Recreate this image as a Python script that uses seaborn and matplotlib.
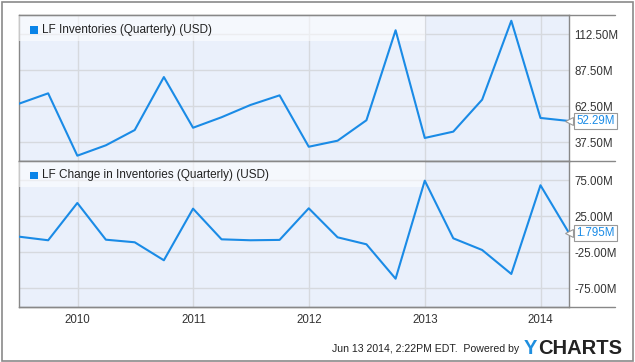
import pandas as pd
import seaborn as sns
import matplotlib.pyplot as plt
import matplotlib.dates as mdates
from matplotlib.lines import Line2D
from matplotlib.patches import Rectangle

# Datas trimestrais (fim de trimestre)
quarters = ['2009-06-30', '2009-09-30', '2009-12-31', '2010-03-31', '2010-06-30',
            '2010-09-30', '2010-12-31', '2011-03-31', '2011-06-30', '2011-09-30',
            '2011-12-31', '2012-03-31', '2012-06-30', '2012-09-30', '2012-12-31',
            '2013-03-31', '2013-06-30', '2013-09-30', '2013-12-31', '2014-03-31']

# Valores em milhões de USD
inventories = [64.3, 71.5, 28.2, 35.4, 46.0, 82.8, 47.6, 54.9, 63.4, 70.1,
               34.4, 38.6, 52.8, 115.3, 40.5, 44.9, 67.1, 121.9, 54.4, 52.29]
change_inv = [-3.3, -8.3, 43.5, -7.5, -11.1, -36.1, 35.6, -7.0, -8.3, -7.8,
              36.1, -4.2, -13.9, -61.7, 74.5, -5.6, -21.8, -55.1, 68.1, 1.795]

top_ticks = [37.5, 62.5, 87.5, 112.5]
bottom_ticks = [-75, -25, 25, 75]
year_ticks = ['2010', '2011', '2012', '2013', '2014']

titles = ['LF Inventories (Quarterly) (USD)', 'LF Change in Inventories (Quarterly) (USD)']
last_labels = ['52.29M', '1.795M']

df = pd.DataFrame({'date': pd.to_datetime(quarters),
                   'inv': inventories, 'chg': change_inv})

sns.set_theme(style='white')
plt.rcParams['font.family'] = ['Liberation Sans', 'DejaVu Sans']

W, H = 635, 362
fig = plt.figure(figsize=(W / 100, H / 100), dpi=100)

line_color = '#1a8be6'
bg = '#eaf0fb'
grid_c = '#d6d9de'
spine_c = '#888888'

def px_axes(left, top, right, bottom):
    return fig.add_axes([left / W, 1 - bottom / H, (right - left) / W, (bottom - top) / H])

ax1 = px_axes(19, 15, 569, 161)
ax2 = px_axes(19, 161, 569, 307)

panels = [(ax1, 'inv', top_ticks, (24.5, 125.9)),
          (ax2, 'chg', bottom_ticks, (-101.0, 101.8))]

for i, (ax, col, ticks, ylim) in enumerate(panels):
    ax.set_facecolor(bg)
    sns.lineplot(data=df, x='date', y=col, ax=ax, color=line_color, linewidth=1.5, zorder=4)
    ax.set_xlim(df['date'].iloc[0], df['date'].iloc[-1])
    ax.set_ylim(*ylim)
    ax.set_xlabel('')
    ax.set_ylabel('')
    ax.yaxis.tick_right()
    ax.set_yticks(ticks)
    ax.set_yticklabels([f'{t:.2f}M' for t in ticks])
    ax.set_xticks(pd.to_datetime(year_ticks))
    ax.xaxis.set_major_formatter(mdates.DateFormatter('%Y'))
    ax.tick_params(axis='both', length=0, labelsize=8.3, colors='#333333')
    ax.tick_params(axis='y', pad=4)
    ax.tick_params(axis='x', pad=5)
    ax.grid(True, color=grid_c, linewidth=1)
    ax.set_axisbelow(True)
    for s in ax.spines.values():
        s.set_color(spine_c)
        s.set_linewidth(1)
    # faixa da legenda (branco semitransparente até 2013)
    band_h = 26 / 146
    x0 = mdates.date2num(df['date'].iloc[0])
    ax.add_patch(Rectangle((x0, 1 - band_h), mdates.date2num(pd.Timestamp('2013-01-01')) - x0,
                           band_h, transform=ax.get_xaxis_transform(),
                           facecolor='white', alpha=0.55, edgecolor='none', zorder=3))
    # legenda
    ax.add_patch(Rectangle((11 / 550, 1 - 18.5 / 146), 7.5 / 550, 7.5 / 146,
                           transform=ax.transAxes, facecolor='#0a84e8', edgecolor='none', zorder=5))
    ax.text(23 / 550, 1 - 14.5 / 146, titles[i], transform=ax.transAxes, fontsize=8.5,
            color='#222222', va='center', ha='left', zorder=5)
    # rótulo do último valor, com setinha
    last_val = df[col].iloc[-1]
    ax.plot([1.0], [last_val], transform=ax.get_yaxis_transform(), marker='<', markersize=6,
            markerfacecolor='white', markeredgecolor='#999999', markeredgewidth=0.8,
            clip_on=False, zorder=6)
    ax.annotate(last_labels[i], xy=(1, last_val), xycoords=ax.get_yaxis_transform(),
                xytext=(7, 0), textcoords='offset pixels', fontsize=8.3, color=line_color,
                va='center', ha='left', annotation_clip=False, zorder=7,
                bbox=dict(boxstyle='square,pad=0.2', facecolor='white', edgecolor='#999999', linewidth=0.8))

ax1.tick_params(axis='x', labelbottom=False)

# linhas horizontais que se estendem além do eixo
for y in [15, 161, 307]:
    fig.add_artist(Line2D([19 / W, 615 / W], [1 - y / H, 1 - y / H], color=spine_c, linewidth=1))

# borda externa
fig.add_artist(Rectangle((1.5 / W, 1.5 / H), (W - 3.5) / W, (H - 3.5) / H,
                         transform=fig.transFigure, fill=False, edgecolor='#8a8a8a', linewidth=1.2))

# rodapé
fig.text(519 / W, 1 - 349 / H, 'Jun 13 2014, 2:22PM EDT.  Powered by', fontsize=7.6,
         color='#222222', ha='right', va='center')
fig.text(524 / W, 1 - 348 / H, 'Y', fontsize=14.5, fontweight='bold', color='#1f8fdf',
         ha='left', va='center')
fig.text(538 / W, 1 - 348 / H, 'CHARTS', fontsize=14.5, fontweight='bold', color='#222222',
         ha='left', va='center')

fig.savefig('out.png', dpi=100)
